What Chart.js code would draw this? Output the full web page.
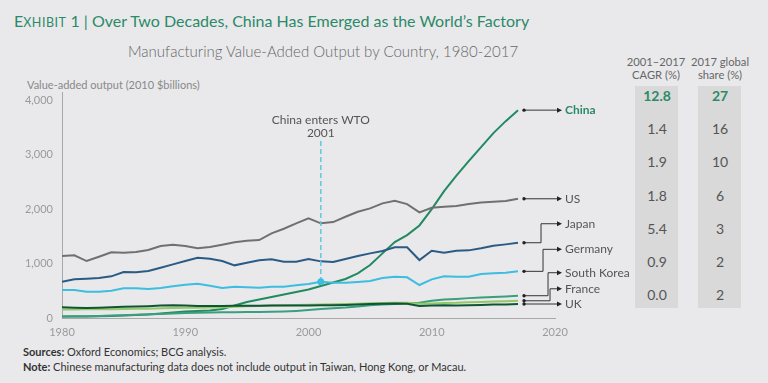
<!DOCTYPE html>
<html><head><meta charset="utf-8">
<script src="https://cdn.jsdelivr.net/npm/chart.js@4.4.1/dist/chart.umd.min.js"></script>
<style>
html,body{margin:0;padding:0;background:#e9e9eb;width:768px;height:383px;overflow:hidden;font-family:Lato,'Open Sans',sans-serif;}
#c{position:absolute;left:0;top:0;}
.t{position:absolute;white-space:nowrap;line-height:1;}
.col{position:absolute;background:#d9d9d9;}
.cell{position:absolute;width:60px;text-align:center;font-size:14px;color:#555;line-height:1;}
.hdr{position:absolute;width:90px;text-align:center;font-size:11.2px;color:#666;line-height:13px;}
</style></head><body>
<div class="t" style="left:14px;top:13px;font-size:16px;color:#2b8a67;">E<span style="font-size:12.5px;letter-spacing:0.5px">XHIBIT</span> 1 | Over Two Decades, China Has Emerged as the World’s Factory</div>
<div class="t" style="left:128px;top:44px;font-size:15px;font-weight:300;color:#666;">Manufacturing Value-Added Output by Country, 1980-2017</div>
<div class="t" style="left:27px;top:79px;font-size:11px;color:#888;">Value-added output (2010 $billions)</div>
<div class="t" style="left:23px;top:346px;font-size:11px;color:#333;"><b>Sources:</b> Oxford Economics; BCG analysis.</div>
<div class="t" style="left:23px;top:361px;font-size:11px;color:#333;"><b>Note:</b> Chinese manufacturing data does not include output in Taiwan, Hong Kong, or Macau.</div>
<div id="table"></div>
<canvas id="c" width="768" height="383"></canvas>
<script>
const years = [1980,1981,1982,1983,1984,1985,1986,1987,1988,1989,1990,1991,1992,1993,1994,1995,1996,1997,1998,1999,2000,2001,2002,2003,2004,2005,2006,2007,2008,2009,2010,2011,2012,2013,2014,2015,2016,2017];
const countries = ['China','US','Japan','Germany','South Korea','France','UK'];
const china   = [28,28,28,31,37,46,55,64,83,101,119,128,138,165,229,294,339,385,431,477,523,587,651,716,820,973,1187,1395,1523,1700,2000,2330,2615,2881,3138,3395,3615,3817];
const us      = [1138,1150,1046,1125,1206,1198,1211,1248,1321,1345,1321,1279,1303,1345,1389,1418,1431,1554,1639,1738,1829,1738,1762,1859,1951,2013,2105,2152,2092,1940,2024,2042,2055,2092,2123,2134,2147,2189];
const japan   = [666,710,721,734,765,844,839,862,923,985,1046,1107,1088,1046,967,1015,1059,1077,1033,1033,1083,1040,1028,1083,1138,1187,1229,1297,1297,1064,1235,1198,1235,1242,1279,1327,1352,1382];
const germany = [514,514,483,483,501,545,545,532,551,582,611,629,593,551,574,563,556,574,574,600,624,666,648,648,661,679,734,758,747,606,710,765,758,758,807,820,831,857];
const korea   = [28,30,33,37,45,52,60,68,75,82,90,96,100,104,106,108,110,115,120,130,145,165,178,192,212,235,246,258,270,282,318,338,350,365,375,385,395,409];
const france  = [156,158,160,160,162,165,168,172,178,183,186,190,194,198,208,218,222,228,234,238,242,248,252,256,262,270,276,282,280,262,268,276,280,290,296,302,308,316];
const uk      = [196,190,185,190,198,205,210,218,228,233,230,222,220,222,225,226,226,228,229,228,230,232,234,240,250,258,262,266,262,222,228,232,230,234,240,246,250,257];
const cagr  = ['12.8','1.4','1.9','1.8','5.4','0.9','0.0'];
const share = ['27','16','10','6','3','2','2'];
const xTicks = [1980,1990,2000,2010,2020];
const yTicks = [0,1000,2000,3000,4000];
const wtoYear = 2001;

const series = [china,us,japan,germany,korea,france,uk];
const colors = ['#228a5f','#707070','#2b5b84','#3dbde0','#3a9f7e','#93c964','#0f5535'];
// label layout (pixels): vertical nudge of label from line end, elbow offset
const labelNudge = [0,0,-19,-22,-23,-12,0];
const elbowOff   = [0,0,17,19,24,26,0];

// table
(function(){
  const t = document.getElementById('table');
  let h = '';
  h += '<div class="col" style="left:635px;top:86px;width:43px;height:222px"></div>';
  h += '<div class="col" style="left:698px;top:86px;width:43px;height:222px"></div>';
  h += '<div class="hdr" style="left:611px;top:55px">2001–2017<br>CAGR (%)</div>';
  h += '<div class="hdr" style="left:675px;top:55px">2017 global<br>share (%)</div>';
  for (let i=0;i<cagr.length;i++){
    const top = 89 + i*33.2;
    const st = i===0 ? 'font-weight:bold;color:#2b8a67;' : '';
    h += '<div class="cell" style="left:627px;top:'+top+'px;'+st+'">'+cagr[i]+'</div>';
    h += '<div class="cell" style="left:690px;top:'+top+'px;'+st+'">'+share[i]+'</div>';
  }
  t.innerHTML = h;
})();

const overlay = {
  id:'overlay',
  afterDatasetsDraw(chart){
    const ctx = chart.ctx, xs = chart.scales.x, ys = chart.scales.y;
    ctx.save();
    const wi = years.indexOf(wtoYear);
    const wx = xs.getPixelForValue(wtoYear);
    const wy = ys.getPixelForValue(germany[wi]);
    ctx.strokeStyle = '#62c6e2'; ctx.lineWidth = 1.5; ctx.setLineDash([5,3]);
    ctx.beginPath(); ctx.moveTo(wx,141); ctx.lineTo(wx,wy); ctx.stroke();
    ctx.setLineDash([]);
    ctx.fillStyle = '#3dbde0';
    ctx.beginPath(); ctx.arc(wx,wy,3.5,0,Math.PI*2); ctx.fill();
    ctx.fillStyle = '#555'; ctx.font = '12px Lato'; ctx.textAlign='center'; ctx.textBaseline='middle';
    ctx.fillText('China enters WTO', wx, 120);
    ctx.fillText(String(wtoYear), wx, 133);
    const last = years.length-1;
    const x0 = xs.getPixelForValue(years[last]) + 6;
    const ax = x0 + 38;
    for (let i=0;i<series.length;i++){
      const ly = ys.getPixelForValue(series[i][last]);
      const ty = ly + labelNudge[i];
      const ex = x0 + elbowOff[i];
      ctx.strokeStyle = '#333'; ctx.fillStyle='#222'; ctx.lineWidth = 1;
      ctx.beginPath();
      ctx.moveTo(x0,ly);
      if (labelNudge[i]!==0){ ctx.lineTo(ex,ly); ctx.lineTo(ex,ty); }
      ctx.lineTo(ax-4,ty); ctx.stroke();
      ctx.beginPath(); ctx.arc(x0,ly,1.7,0,Math.PI*2); ctx.fill();
      ctx.beginPath(); ctx.moveTo(ax,ty); ctx.lineTo(ax-5,ty-2.5); ctx.lineTo(ax-5,ty+2.5); ctx.closePath(); ctx.fill();
      ctx.textAlign='left'; ctx.textBaseline='middle';
      if (i===0){ ctx.fillStyle='#2b8a67'; ctx.font='bold 12px Lato'; }
      else { ctx.fillStyle='#555'; ctx.font='12px Lato'; }
      ctx.fillText(countries[i], ax+3, ty);
    }
    ctx.restore();
  }
};

new Chart(document.getElementById('c').getContext('2d'), {
  type:'line',
  data:{ datasets: series.map((s,i)=>({
    label: countries[i],
    data: years.map((y,j)=>({x:y,y:s[j]})),
    borderColor: colors[i], borderWidth: 2, pointRadius: 0, tension: 0, fill: false
  })).reverse() },
  options:{
    responsive:false, animation:false, devicePixelRatio:1,
    layout:{padding:{left:0,right:213,top:92,bottom:0}},
    plugins:{legend:{display:false},tooltip:{enabled:false}},
    scales:{
      x:{type:'linear',min:1980,max:2020,
        grid:{display:false,drawTicks:false},
        border:{display:true,color:'#a8a8a8',width:1},
        ticks:{padding:8,color:'#9a9a9a',font:{family:'Lato',size:11},callback:v=>String(v),maxRotation:0},
        afterBuildTicks:s=>{s.ticks = xTicks.map(v=>({value:v}));},
        afterFit:s=>{s.height=65;}
      },
      y:{type:'linear',min:0,max:4150,
        grid:{display:false,drawTicks:false},
        border:{display:true,color:'#a8a8a8',width:1},
        ticks:{padding:9,color:'#9a9a9a',font:{family:'Lato',size:11},callback:v=>v.toLocaleString('en-US')},
        afterBuildTicks:s=>{s.ticks = yTicks.map(v=>({value:v}));},
        afterFit:s=>{s.width=62;}
      }
    }
  },
  plugins:[overlay]
});
</script>
</body></html>
